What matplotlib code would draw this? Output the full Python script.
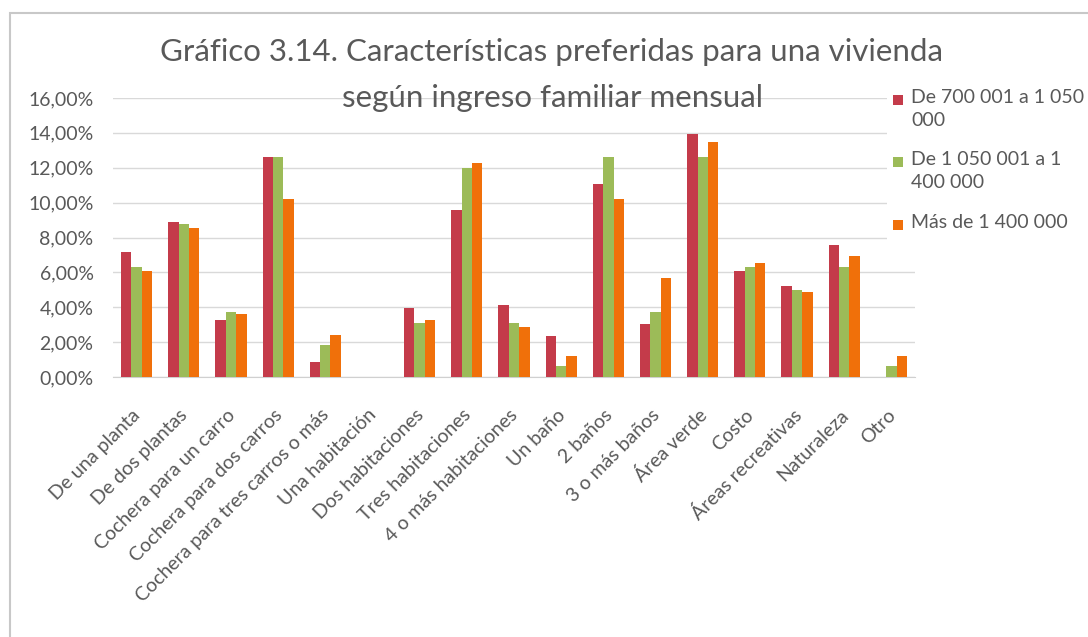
import numpy as np
import matplotlib.pyplot as plt
from matplotlib.patches import Rectangle

plt.rcParams['font.family'] = ['Lato', 'DejaVu Sans']

categorias = [
    "De una planta", "De dos plantas", "Cochera para un carro",
    "Cochera para dos carros", "Cochera para tres carros o más",
    "Una habitación", "Dos habitaciones", "Tres habitaciones",
    "4 o más habitaciones", "Un baño", "2 baños", "3 o más baños",
    "Área verde", "Costo", "Áreas recreativas", "Naturaleza", "Otro",
]
series = [
    "De 700 001 a 1 050\n000",
    "De 1 050 001 a 1\n400 000",
    "Más de 1 400 000",
]
ingreso_bajo = [7.18, 8.87, 3.26, 12.60, 0.86, 0.00, 3.93, 9.56, 4.14,
                2.36, 11.05, 3.05, 13.93, 6.09, 5.21, 7.59, 0.00]
ingreso_medio = [6.28, 8.79, 3.74, 12.60, 1.86, 0.00, 3.10, 11.99, 3.07,
                 0.61, 12.60, 3.74, 12.60, 6.32, 4.98, 6.28, 0.61]
ingreso_alto = [6.09, 8.54, 3.64, 10.19, 2.41, 0.00, 3.26, 12.28, 2.84,
                1.23, 10.19, 5.67, 13.49, 6.51, 4.87, 6.93, 1.23]
y_ticks = [0, 2, 4, 6, 8, 10, 12, 14, 16]

colores = ['#C43B4A', '#9CBB58', '#F0700A']
gris = '#595959'

W, H = 1088, 637
fig = plt.figure(figsize=(W / 100, H / 100), dpi=100)
ax = fig.add_axes([113 / W, 1 - 377 / H, 802 / W, 279 / H])

x = np.arange(len(categorias))
ancho = 0.22
for i, (vals, color) in enumerate(zip([ingreso_bajo, ingreso_medio, ingreso_alto], colores)):
    ax.bar(x + (i - 1) * ancho, vals, width=ancho, color=color, zorder=3)

ax.set_xlim(-0.5, len(categorias) - 0.5)
ax.set_ylim(0, 16)
ax.set_yticks(y_ticks)
ax.set_yticklabels([f"{v:.2f}".replace('.', ',') + "%" for v in y_ticks],
                   fontsize=14, color=gris)
ax.set_xticks(x - 0.1)
ax.set_xticklabels(categorias, rotation=45, ha='right', rotation_mode='anchor',
                   fontsize=14, color=gris)
ax.tick_params(axis='both', length=0)
ax.tick_params(axis='y', pad=14)
ax.tick_params(axis='x', pad=21)
ax.yaxis.grid(True, color='#D9D9D9', linewidth=1, zorder=0)
for lado in ['top', 'right', 'left']:
    ax.spines[lado].set_visible(False)
ax.spines['bottom'].set_color('#D0D0D0')

fig.text(551 / W, 1 - 52 / H, "Gráfico 3.14. Características preferidas para una vivienda",
         ha='center', va='center', fontsize=22.5, color=gris)
fig.text(553 / W, 1 - 98 / H, "según ingreso familiar mensual",
         ha='center', va='center', fontsize=22.5, color=gris)

# leyenda con fondo blanco sobre el extremo de la cuadrícula
fig.patches.append(Rectangle((887 / W, 1 - 240 / H), 200 / W, 150 / H,
                             transform=fig.transFigure, facecolor='white',
                             edgecolor='none', zorder=5))
y_leyenda = [100, 162, 225]
for etiqueta, color, yl in zip(series, colores, y_leyenda):
    fig.patches.append(Rectangle((893 / W, 1 - (yl + 5) / H), 10 / W, 10 / H,
                                 transform=fig.transFigure, facecolor=color,
                                 edgecolor='none', zorder=6))
    fig.text(911 / W, 1 - (yl - 11) / H, etiqueta, ha='left', va='top',
             fontsize=14, color=gris, linespacing=1.45, zorder=6)

# marco del gráfico
fig.patches.append(Rectangle((10 / W, -0.1), 1.2, (H - 13) / H + 0.1,
                             transform=fig.transFigure, fill=False,
                             edgecolor='#C8C8C8', linewidth=1.5))

fig.savefig('out.png', dpi=100)
